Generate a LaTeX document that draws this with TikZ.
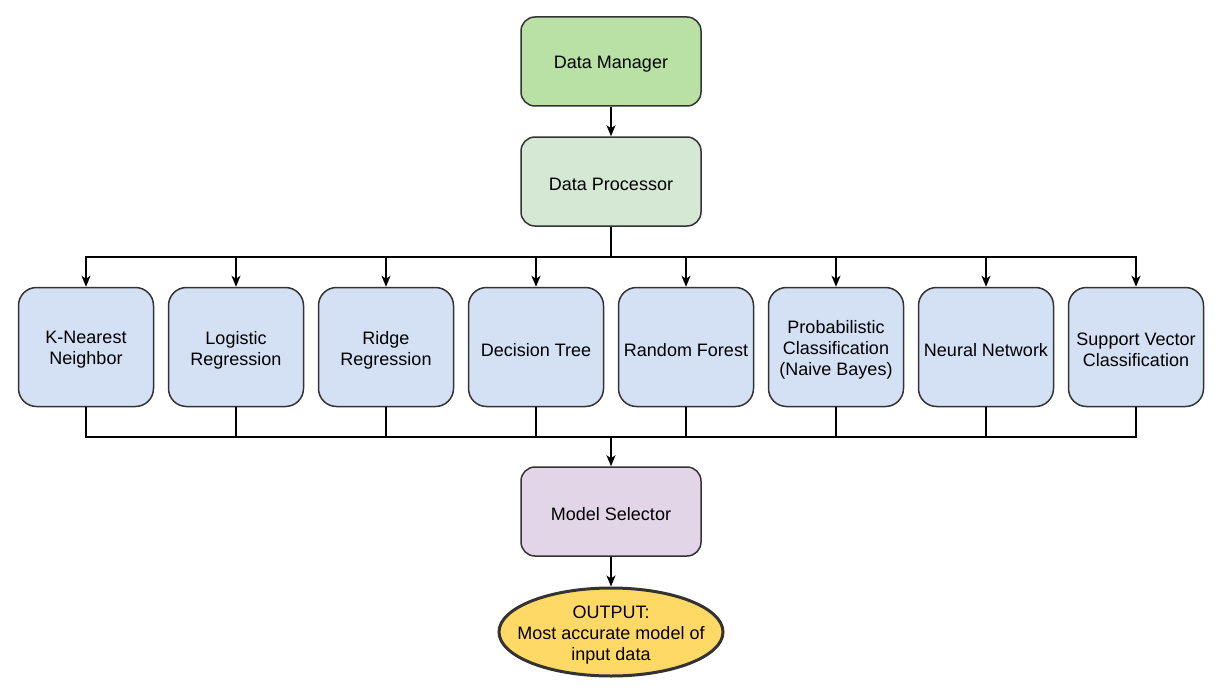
\documentclass[tikz,border=0pt]{standalone}
\usepackage{fontspec}
\setmainfont{Liberation Sans}
\usetikzlibrary{arrows.meta,shapes.geometric}
\definecolor{dmfill}{HTML}{B9E0A5}
\definecolor{dpfill}{HTML}{D5E8D4}
\definecolor{mfill}{HTML}{D4E1F5}
\definecolor{msfill}{HTML}{E1D5E7}
\definecolor{outfill}{HTML}{FFD966}
\definecolor{linec}{HTML}{333333}
\tikzset{
  txt/.style={align=center, inner sep=0pt, font=\fontsize{18}{21}\selectfont, text=black, yshift=-3pt},
  base/.style={draw=linec, line width=1.5pt, inner sep=0pt},
  mainbox/.style={base, rounded corners=14pt, minimum width=180pt, minimum height=89pt},
  modelbox/.style={base, fill=mfill, rounded corners=18pt, minimum width=135pt, minimum height=119pt},
  outbox/.style={base, ellipse, fill=outfill, line width=3pt, minimum width=224pt, minimum height=88pt},
  arr/.style={draw=black, line width=1.5pt, -{Stealth[length=11pt,width=9pt,inset=3pt]}},
  ln/.style={draw=black, line width=1.5pt},
}
\begin{document}
\begin{tikzpicture}[x=1pt,y=-1pt]
\useasboundingbox (0,0) rectangle (1225,698);
\node[mainbox, fill=dmfill, label={[txt]center:Data Manager}] (dm) at (611,61.5) {};
\node[mainbox, fill=dpfill, label={[txt]center:Data Processor}] (dp) at (611,181.5) {};
\node[modelbox, label={[txt]center:{K-Nearest\\Neighbor}}] (b1) at (86,347) {};
\node[modelbox, label={[txt]center:{Logistic\\Regression}}] (b2) at (236,347) {};
\node[modelbox, label={[txt]center:{Ridge\\Regression}}] (b3) at (386,347) {};
\node[modelbox, label={[txt]center:{Decision Tree}}] (b4) at (536,347) {};
\node[modelbox, label={[txt]center:{Random Forest}}] (b5) at (686,347) {};
\node[modelbox, label={[txt]center:{Probabilistic\\Classification\\(Naive Bayes)}}] (b6) at (836,347) {};
\node[modelbox, label={[txt]center:{Neural Network}}] (b7) at (986,347) {};
\node[modelbox, label={[txt]center:{Support Vector\\Classification}}] (b8) at (1136,347) {};
\node[mainbox, fill=msfill, label={[txt]center:Model Selector}] (ms) at (611,511.5) {};
\node[outbox, label={[txt]center:{OUTPUT:\\Most accurate model of\\input data}}] (out) at (611,632) {};
\coordinate (split) at (611,257);
\coordinate (join) at (611,437);
\draw[arr] (dm.south) -- (dp.north);
\draw[ln] (dp.south) -- (split);
\foreach \b in {b1,b2,b3,b4,b5,b6,b7,b8}{
  \draw[arr] (split) -| (\b.north);
  \draw[ln] (\b.south) |- (join);
}
\draw[arr] (join) -- (ms.north);
\draw[arr] (ms.south) -- (out.north);
\end{tikzpicture}
\end{document}
